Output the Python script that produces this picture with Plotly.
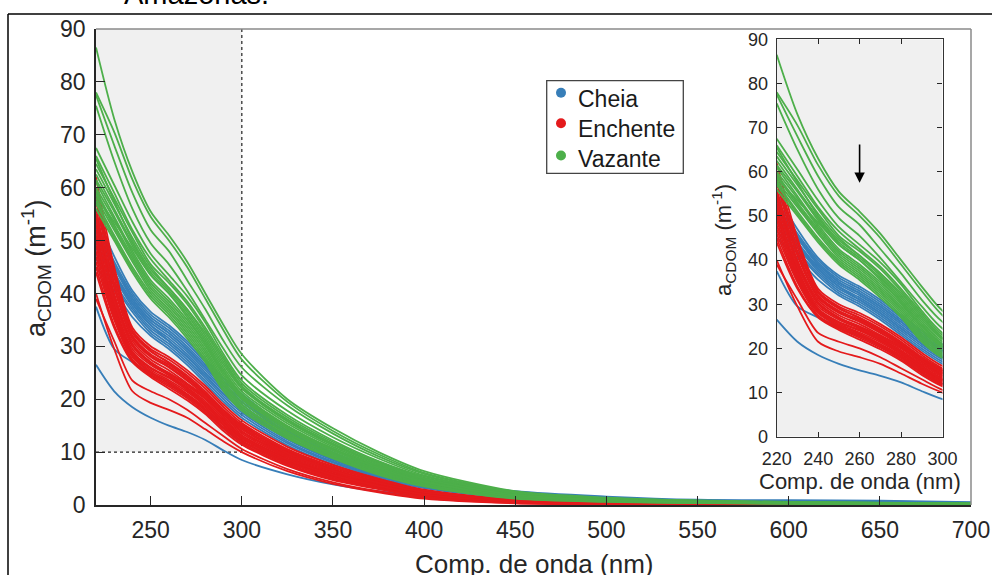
import plotly.graph_objects as go

# ---------------- data ----------------
wavelength = [220, 230, 240, 250, 260, 270, 280, 290, 300, 325, 350, 375, 400, 450, 500, 550, 600, 650, 700]

cheia = [
    [55.0, 47.0, 40.5, 36.5, 34.0, 31.0, 27.5, 24.0, 21.0, 14.5, 10.0, 6.7, 4.3, 1.7, 0.8, 0.45, 0.3, 0.22, 0.15],
    [53.5, 46.0, 40.0, 36.0, 33.5, 30.5, 27.0, 23.5, 20.5, 14.1, 9.7, 6.5, 4.1, 1.6, 0.75, 0.42, 0.28, 0.2, 0.14],
    [52.5, 45.5, 39.5, 35.5, 33.0, 30.0, 26.5, 23.0, 20.0, 13.7, 9.4, 6.3, 4.0, 1.55, 0.72, 0.4, 0.27, 0.19, 0.13],
    [51.5, 45.0, 39.0, 35.0, 32.5, 29.5, 26.0, 22.5, 19.5, 13.4, 9.2, 6.1, 3.9, 1.5, 0.7, 0.39, 0.26, 0.18, 0.12],
    [50.5, 44.0, 38.5, 34.5, 32.0, 29.0, 25.5, 22.0, 19.0, 13.0, 8.9, 5.9, 3.8, 1.45, 0.68, 0.38, 0.25, 0.18, 0.12],
    [49.5, 43.5, 38.0, 34.0, 31.5, 28.5, 25.0, 21.5, 18.5, 12.7, 8.7, 5.8, 3.7, 1.4, 0.66, 0.37, 0.24, 0.17, 0.11],
    [48.5, 43.0, 37.5, 33.5, 31.0, 28.0, 24.5, 21.0, 18.0, 12.4, 8.5, 5.6, 3.6, 1.35, 0.64, 0.36, 0.24, 0.17, 0.11],
    [47.5, 42.0, 37.0, 33.0, 30.5, 27.5, 24.0, 20.5, 17.5, 12.0, 8.2, 5.4, 3.5, 1.3, 0.62, 0.35, 0.23, 0.16, 0.1],
    [46.5, 41.5, 36.5, 32.5, 30.0, 27.0, 23.5, 20.0, 17.0, 11.7, 8.0, 5.3, 3.4, 1.25, 0.6, 0.34, 0.22, 0.16, 0.1],
    [45.0, 40.5, 35.5, 32.0, 29.5, 26.5, 23.0, 19.5, 16.5, 11.3, 7.7, 5.1, 3.2, 1.2, 0.58, 0.33, 0.21, 0.15, 0.1],
    [52.0, 45.0, 39.0, 35.0, 32.5, 29.5, 26.0, 22.5, 19.5, 13.8, 9.8, 6.9, 4.9, 2.6, 1.6, 1.0, 0.9, 0.8, 0.55],
    [49.0, 43.5, 38.0, 34.0, 31.0, 28.0, 24.5, 21.0, 18.0, 12.5, 8.7, 6.0, 4.1, 2.0, 1.2, 0.85, 0.75, 0.7, 0.45],
    [37.5, 29.5, 27.0, 25.0, 23.0, 20.5, 18.0, 14.5, 12.0, 8.2, 5.6, 3.7, 2.4, 0.9, 0.42, 0.23, 0.15, 0.1, 0.06],
    [26.5, 21.5, 18.5, 16.5, 15.0, 13.8, 12.3, 10.3, 8.5, 5.8, 3.9, 2.6, 1.7, 0.65, 0.3, 0.16, 0.1, 0.07, 0.04],
]

enchente = [
    [62.0, 45.0, 33.5, 30.0, 28.0, 25.5, 22.5, 19.0, 16.0, 11.0, 7.6, 5.0, 2.9, 0.95, 0.45, 0.22, 0.12, 0.08, 0.05],
    [60.0, 44.0, 33.0, 29.5, 27.5, 25.0, 22.0, 18.5, 15.5, 10.6, 7.3, 4.8, 2.8, 0.9, 0.42, 0.2, 0.11, 0.07, 0.04],
    [58.5, 43.0, 32.5, 29.0, 27.0, 24.5, 21.5, 18.0, 15.2, 10.3, 7.0, 4.6, 2.7, 0.85, 0.4, 0.19, 0.1, 0.07, 0.04],
    [57.5, 42.0, 32.0, 28.5, 26.5, 24.0, 21.0, 17.8, 14.9, 10.1, 6.8, 4.4, 2.6, 0.82, 0.38, 0.18, 0.1, 0.06, 0.04],
    [56.0, 41.0, 31.5, 28.0, 26.0, 23.5, 20.8, 17.5, 14.6, 9.9, 6.6, 4.3, 2.5, 0.8, 0.36, 0.17, 0.09, 0.06, 0.03],
    [55.0, 40.0, 31.0, 27.5, 25.5, 23.0, 20.5, 17.2, 14.3, 9.6, 6.4, 4.1, 2.4, 0.76, 0.34, 0.16, 0.09, 0.06, 0.03],
    [54.0, 39.5, 30.5, 27.0, 25.0, 22.8, 20.2, 17.0, 14.0, 9.4, 6.2, 4.0, 2.3, 0.72, 0.32, 0.15, 0.08, 0.05, 0.03],
    [53.0, 39.0, 30.0, 26.8, 24.8, 22.5, 20.0, 16.7, 13.8, 9.2, 6.0, 3.9, 2.2, 0.7, 0.3, 0.14, 0.08, 0.05, 0.03],
    [52.0, 38.0, 29.5, 26.5, 24.5, 22.2, 19.6, 16.4, 13.5, 9.0, 5.9, 3.8, 2.1, 0.66, 0.29, 0.13, 0.07, 0.05, 0.02],
    [51.0, 37.5, 29.0, 26.0, 24.2, 22.0, 19.3, 16.1, 13.2, 8.8, 5.8, 3.7, 2.0, 0.63, 0.28, 0.13, 0.07, 0.04, 0.02],
    [50.0, 37.0, 28.8, 25.8, 24.0, 21.7, 19.0, 15.8, 13.0, 8.6, 5.6, 3.6, 1.95, 0.6, 0.27, 0.12, 0.07, 0.04, 0.02],
    [49.0, 36.5, 28.5, 25.5, 23.6, 21.4, 18.7, 15.5, 12.7, 8.4, 5.5, 3.5, 1.9, 0.58, 0.26, 0.12, 0.06, 0.04, 0.02],
    [48.0, 36.0, 28.2, 25.2, 23.3, 21.0, 18.4, 15.2, 12.5, 8.2, 5.3, 3.4, 1.8, 0.55, 0.25, 0.11, 0.06, 0.04, 0.02],
    [47.0, 35.5, 28.0, 25.0, 23.0, 20.8, 18.1, 15.0, 12.2, 8.0, 5.2, 3.3, 1.75, 0.52, 0.24, 0.11, 0.06, 0.03, 0.02],
    [46.0, 35.0, 27.5, 24.7, 22.7, 20.5, 17.8, 14.7, 12.0, 7.8, 5.0, 3.2, 1.7, 0.5, 0.23, 0.1, 0.05, 0.03, 0.02],
    [45.0, 34.0, 27.2, 24.5, 22.4, 20.2, 17.5, 14.4, 11.7, 7.6, 4.9, 3.1, 1.6, 0.48, 0.22, 0.1, 0.05, 0.03, 0.01],
    [44.0, 33.5, 27.0, 24.2, 22.0, 19.8, 17.2, 14.0, 11.4, 7.4, 4.7, 3.0, 1.55, 0.46, 0.21, 0.09, 0.05, 0.03, 0.01],
    [58.0, 44.5, 32.8, 29.2, 26.8, 24.2, 21.2, 18.0, 15.0, 10.4, 7.2, 4.7, 2.75, 0.88, 0.41, 0.2, 0.11, 0.07, 0.04],
    [54.5, 41.5, 31.8, 28.2, 26.2, 23.7, 20.6, 17.3, 14.4, 9.8, 6.5, 4.2, 2.45, 0.78, 0.35, 0.17, 0.09, 0.06, 0.03],
    [50.5, 38.5, 30.2, 27.0, 24.6, 22.0, 19.0, 15.9, 12.9, 8.6, 5.7, 3.6, 2.0, 0.62, 0.28, 0.13, 0.07, 0.04, 0.02],
    [40.0, 29.5, 21.5, 19.3, 18.0, 16.5, 14.3, 12.0, 10.0, 6.4, 4.0, 2.4, 1.2, 0.33, 0.14, 0.06, 0.03, 0.02, 0.01],
    [39.0, 31.0, 23.5, 21.5, 20.0, 18.0, 15.5, 13.0, 10.6, 6.8, 4.3, 2.6, 1.35, 0.38, 0.16, 0.07, 0.04, 0.02, 0.01],
]

vazante = [
    [86.5, 73.0, 63.0, 55.5, 51.0, 46.0, 40.0, 34.0, 28.5, 20.0, 14.5, 10.0, 6.4, 2.6, 1.4, 0.85, 0.6, 0.45, 0.3],
    [78.0, 70.5, 61.5, 54.5, 50.0, 45.0, 39.0, 33.0, 27.5, 19.5, 14.0, 9.6, 6.1, 2.5, 1.3, 0.8, 0.55, 0.42, 0.28],
    [77.5, 68.0, 59.0, 52.0, 48.0, 42.5, 37.0, 31.0, 26.0, 18.8, 13.5, 9.2, 5.9, 2.4, 1.25, 0.78, 0.52, 0.4, 0.26],
    [75.5, 65.0, 56.0, 49.5, 45.5, 40.5, 35.0, 29.5, 24.5, 17.8, 12.8, 8.8, 5.6, 2.3, 1.2, 0.74, 0.5, 0.38, 0.25],
    [67.5, 60.5, 53.5, 47.5, 43.5, 39.5, 34.5, 28.5, 23.5, 17.0, 12.2, 8.3, 5.4, 2.1, 1.1, 0.7, 0.48, 0.36, 0.24],
    [66.0, 59.0, 52.0, 46.5, 42.5, 38.5, 33.5, 28.0, 23.0, 16.6, 11.9, 8.1, 5.2, 2.0, 1.05, 0.66, 0.45, 0.34, 0.22],
    [64.5, 58.0, 51.5, 45.5, 42.0, 38.0, 33.0, 27.5, 22.5, 16.2, 11.6, 7.9, 5.0, 1.95, 1.0, 0.63, 0.43, 0.32, 0.21],
    [63.5, 57.0, 50.5, 45.0, 41.0, 37.0, 32.0, 26.5, 22.0, 15.8, 11.3, 7.7, 4.9, 1.9, 0.98, 0.6, 0.41, 0.3, 0.2],
    [62.5, 56.0, 49.5, 44.0, 40.5, 36.5, 31.5, 26.0, 21.5, 15.4, 11.0, 7.5, 4.8, 1.85, 0.95, 0.58, 0.4, 0.29, 0.19],
    [61.5, 55.5, 49.0, 43.5, 40.0, 36.0, 31.0, 25.5, 21.0, 15.0, 10.7, 7.3, 4.6, 1.75, 0.9, 0.55, 0.38, 0.28, 0.18],
    [61.0, 54.5, 48.0, 42.5, 39.0, 35.0, 30.5, 25.0, 20.8, 14.8, 10.5, 7.1, 4.5, 1.7, 0.88, 0.53, 0.36, 0.27, 0.17],
    [60.0, 54.0, 47.5, 42.0, 38.5, 34.5, 30.0, 24.5, 20.3, 14.5, 10.3, 6.9, 4.3, 1.6, 0.85, 0.5, 0.35, 0.26, 0.16],
    [59.5, 53.0, 47.0, 41.5, 38.0, 34.0, 29.5, 24.0, 20.0, 14.2, 10.0, 6.7, 4.2, 1.55, 0.8, 0.48, 0.33, 0.25, 0.15],
    [59.0, 52.5, 46.5, 41.0, 37.5, 33.5, 29.0, 23.5, 19.5, 13.8, 9.7, 6.5, 4.0, 1.5, 0.78, 0.46, 0.32, 0.24, 0.15],
    [58.0, 52.0, 46.0, 40.5, 37.0, 33.0, 28.5, 23.0, 19.0, 13.5, 9.5, 6.3, 3.9, 1.45, 0.75, 0.44, 0.3, 0.22, 0.14],
    [57.5, 51.0, 45.0, 40.0, 36.5, 32.5, 28.0, 22.5, 18.6, 13.2, 9.3, 6.1, 3.8, 1.4, 0.72, 0.42, 0.29, 0.21, 0.13],
    [57.0, 50.5, 44.5, 39.5, 36.0, 32.0, 27.5, 22.0, 18.2, 12.9, 9.0, 5.9, 3.6, 1.3, 0.68, 0.4, 0.27, 0.2, 0.12],
    [56.0, 50.0, 44.0, 39.0, 35.5, 31.5, 27.0, 21.5, 17.8, 12.6, 8.8, 5.7, 3.5, 1.2, 0.6, 0.36, 0.25, 0.18, 0.11],
    [58.5, 53.5, 48.5, 43.5, 40.0, 35.5, 30.5, 25.0, 20.5, 14.6, 10.4, 7.0, 4.4, 1.65, 0.86, 0.52, 0.36, 0.27, 0.17],
    [65.5, 57.5, 50.0, 44.5, 41.0, 37.0, 32.5, 27.0, 22.3, 16.0, 11.4, 7.8, 5.0, 1.9, 0.97, 0.6, 0.41, 0.3, 0.2],
]

series_names = ["Cheia", "Enchente", "Vazante"]
series_colors = ["#377eb8", "#e41a1c", "#4daf4a"]
main_xticks = [250, 300, 350, 400, 450, 500, 550, 600, 650, 700]
inset_xticks = [220, 240, 260, 280, 300]
yticks = [0, 10, 20, 30, 40, 50, 60, 70, 80, 90]
zoom_box = [220, 300, 10, 90]        # shaded zoom window (x0, x1, y0, y1)
arrow_at = [260, 57.5, 66.5]          # x, head y, tail y (inset)

# ---------------- layout geometry (page pixels) ----------------
W, H = 992, 575
L, R, T, B = 96, 971, 29, 505          # main plot area


def fx(p):
    return (p - L) / (R - L)


def fy(p):
    return (B - p) / (B - T)


FONT = "Liberation Sans, Arial, Helvetica, sans-serif"
TXT = "#262626"

fig = go.Figure()

groups = [cheia, enchente, vazante]
for axes in (("x", "y"), ("x2", "y2")):
    for curves, color in zip(groups, series_colors):
        for c in curves:
            fig.add_trace(go.Scatter(
                x=wavelength, y=c, mode="lines",
                line=dict(color=color, width=1.8, shape="spline", smoothing=0.8),
                xaxis=axes[0], yaxis=axes[1], showlegend=False, hoverinfo="skip"))

shapes = [
    # shaded zoom window on main axes
    dict(type="rect", xref="x", yref="y", x0=zoom_box[0], x1=zoom_box[1], y0=zoom_box[2], y1=zoom_box[3],
         fillcolor="#f0f0f0", line=dict(width=0), layer="below"),
    dict(type="line", xref="x", yref="y", x0=zoom_box[1], x1=zoom_box[1], y0=zoom_box[2], y1=zoom_box[3],
         line=dict(color="#222", width=1.2, dash="dot"), layer="below"),
    dict(type="line", xref="x", yref="y", x0=zoom_box[0], x1=zoom_box[1], y0=zoom_box[2], y1=zoom_box[2],
         line=dict(color="#222", width=1.2, dash="dot"), layer="below"),
    # inset background
    dict(type="rect", xref="x2", yref="y2", x0=inset_xticks[0], x1=inset_xticks[-1], y0=yticks[0], y1=yticks[-1],
         fillcolor="#f0f0f0", line=dict(width=0), layer="below"),
    # main box top / right (grey)
    dict(type="line", xref="paper", yref="paper", x0=0, x1=1, y0=1, y1=1,
         line=dict(color="#8a8a8a", width=1.5)),
    dict(type="line", xref="paper", yref="paper", x0=1, x1=1, y0=0, y1=1,
         line=dict(color="#8a8a8a", width=1.5)),
    # outer page frame
    dict(type="line", xref="paper", yref="paper", x0=fx(8), x1=fx(1010), y0=fy(14), y1=fy(14),
         line=dict(color="black", width=1.5)),
    dict(type="line", xref="paper", yref="paper", x0=fx(8), x1=fx(8), y0=fy(14), y1=fy(600),
         line=dict(color="black", width=1.5)),
    # legend box
    dict(type="rect", xref="paper", yref="paper", x0=fx(546.7), x1=fx(683.3), y0=fy(173.3), y1=fy(80.7),
         fillcolor="white", line=dict(color="#444", width=1.3)),
]

annotations = [
    dict(text="a<sub>CDOM</sub> (m<sup>-1</sup>)", xref="paper", yref="paper", x=fx(36), y=fy(268),
         textangle=-90, showarrow=False, font=dict(size=27, color=TXT, family=FONT),
         xanchor="center", yanchor="middle"),
    dict(text="Comp. de onda (nm)", xref="paper", yref="paper", x=0.5, y=fy(547),
         showarrow=False, font=dict(size=26, color=TXT, family=FONT), xanchor="center", yanchor="top"),
    dict(text="a<sub>CDOM</sub> (m<sup>-1</sup>)", xref="paper", yref="paper", x=fx(723), y=fy(240),
         textangle=-90, showarrow=False, font=dict(size=22, color=TXT, family=FONT),
         xanchor="center", yanchor="middle"),
    dict(text="Comp. de onda (nm)", xref="paper", yref="paper", x=fx(860), y=fy(481),
         showarrow=False, font=dict(size=22, color=TXT, family=FONT), xanchor="center", yanchor="middle"),
    dict(text="", xref="x2", yref="y2", x=arrow_at[0], y=arrow_at[1],
         axref="x2", ayref="y2", ax=arrow_at[0], ay=arrow_at[2],
         showarrow=True, arrowhead=2, arrowsize=1.3, arrowwidth=1.6, arrowcolor="black"),
    dict(text="Amazonas.", xref="paper", yref="paper", x=fx(122), y=fy(-6),
         showarrow=False, font=dict(size=29, color="black", family=FONT), xanchor="left", yanchor="middle"),
]

# manual legend (dots + labels inside the box)
legend_dot_y = [92.7, 123.3, 155.5]
legend_txt_y = [98.5, 129.0, 159.0]
for name, color, dy, ty in zip(series_names, series_colors, legend_dot_y, legend_txt_y):
    shapes.append(dict(type="circle", xref="paper", yref="paper", xsizemode="pixel", ysizemode="pixel",
                       xanchor=fx(561), yanchor=fy(dy), x0=-5, x1=5, y0=-5, y1=5,
                       fillcolor=color, line=dict(color=color, width=0)))
    annotations.append(dict(text=name, xref="paper", yref="paper", x=fx(576), y=fy(ty),
                            showarrow=False, xanchor="left", yanchor="middle",
                            font=dict(size=23, color="#1a1a1a", family=FONT)))

axis_common = dict(showgrid=False, zeroline=False, automargin=False, showline=True, ticks="inside")

fig.update_layout(
    width=W, height=H,
    margin=dict(l=L, r=W - R, t=T, b=H - B, autoexpand=False),
    paper_bgcolor="white", plot_bgcolor="white",
    font=dict(family=FONT, color=TXT),
    shapes=shapes, annotations=annotations,
    showlegend=False,
    xaxis=dict(axis_common, domain=[0, 1], range=[220, 700], tickvals=main_xticks, ticklen=9,
               tickcolor=TXT, tickwidth=1.2, linecolor=TXT, linewidth=1.5,
               tickfont=dict(size=23, color=TXT, family=FONT), ticklabelstandoff=4),
    yaxis=dict(axis_common, domain=[0, 1], range=[0, 90], tickvals=yticks, ticklen=9,
               tickcolor=TXT, tickwidth=1.2, linecolor=TXT, linewidth=1.5,
               tickfont=dict(size=23, color=TXT, family=FONT), ticklabelstandoff=4),
    xaxis2=dict(axis_common, domain=[fx(776.7), fx(942.5)], anchor="y2", range=[220, 300],
                tickvals=inset_xticks, ticklen=5, tickcolor=TXT, linecolor="#333", linewidth=1.3,
                mirror="ticks", tickfont=dict(size=18, color=TXT, family=FONT), ticklabelstandoff=6),
    yaxis2=dict(axis_common, domain=[fy(436.7), fy(39.3)], anchor="x2", range=[0, 90], tickvals=yticks,
                ticklen=5, tickcolor=TXT, linecolor="#333", linewidth=1.3,
                mirror="ticks", tickfont=dict(size=18, color=TXT, family=FONT), ticklabelstandoff=4),
)

# the page body has a default 8px margin; remove it so the 992x575 figure fills the window
fig.write_html("out.html", config={"displayModeBar": False},
               post_script="document.body.style.margin='0';document.documentElement.style.overflow='hidden';")
